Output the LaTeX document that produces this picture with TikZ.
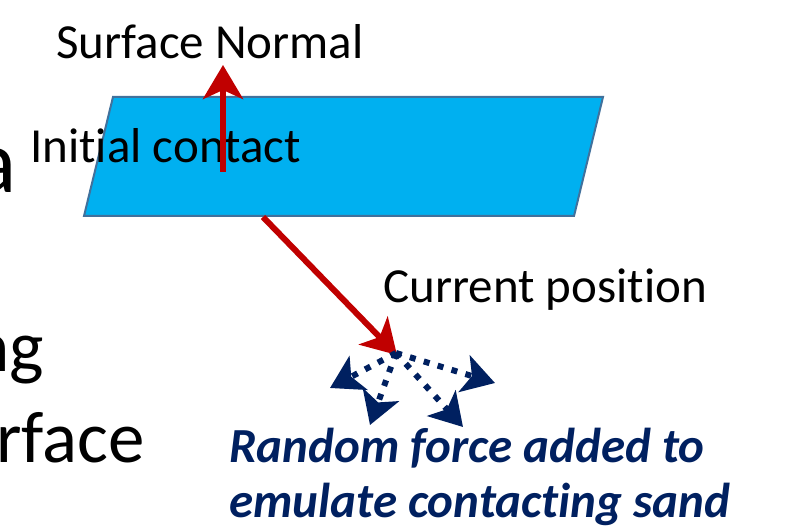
\documentclass[tikz,border=0pt]{standalone}
\usepackage{fontspec}
\setmainfont{Carlito}[Ligatures=CommonOff]
\usetikzlibrary{arrows.meta}
\definecolor{surfblue}{HTML}{00B0F0}
\definecolor{surfedge}{HTML}{41719C}
\definecolor{arrowred}{HTML}{C00000}
\definecolor{navyblue}{HTML}{002060}
% keep "t" and "i" as separate letters
\newcommand{\tisep}{\kern0pt}
\tikzset{
  caption/.style={inner sep=0pt, anchor=base west, font=\fontsize{49}{58}\selectfont},
  notetext/.style={inner sep=0pt, anchor=base west, text=navyblue,
    font=\fontsize{49}{56}\selectfont\bfseries\itshape},
  bigfrag/.style={inner sep=0pt, anchor=base east},
  redarrow/.style={draw=arrowred, line width=6pt,
    -{Stealth[length=34pt,width=40pt,inset=9pt]}},
  randarrow/.style={draw=navyblue, line width=6pt, dash pattern=on 6pt off 8.5pt,
    -{Stealth[length=32pt,width=38pt,inset=8pt]}},
  surface/.style={fill=surfblue, draw=surfedge, line width=2pt, line join=miter}
}
\begin{document}
\begin{tikzpicture}[x=1pt,y=-1pt]
\useasboundingbox (0,0) rectangle (789,526);
\clip (0,0) rectangle (789,526);

% text of the slide running in from the left
\node[bigfrag, font=\fontsize{90}{100}\selectfont] (fraga) at (17,193) {a};
\node[bigfrag, font=\fontsize{73}{88}\selectfont] (fragb) at (44,371) {ng};
\node[bigfrag, font=\fontsize{73}{88}\selectfont] (fragc) at (145,462) {rface};

% contact surface
\coordinate (s1) at (113,97);
\coordinate (s2) at (603,97);
\coordinate (s3) at (574,216);
\coordinate (s4) at (84,216);
\path[surface] (s1) -- (s2) -- (s3) -- (s4) -- cycle;

% labels
\node[caption] (snormal) at (56,59) {Surface Normal};
\node[caption] (initial) at (30,163) {Ini\tisep tial contact};
\node[caption] (current) at (383,302) {Current posi\tisep tion};

% key points
\coordinate (contact) at (223,172);
\coordinate (normaltip) at (223,65);
\coordinate (slide) at (263,217);
\coordinate (curpos) at (397,355);
\coordinate (origin) at (396,353);
\coordinate (ra) at (330,388);
\coordinate (rb) at (370,425);
\coordinate (rc) at (463,427);
\coordinate (rd) at (495,383);

% normal and path to the current position
\draw[redarrow] (contact) -- (normaltip);
\draw[redarrow] (slide) -- (curpos);

% random forces
\draw[randarrow] (origin) -- (ra);
\draw[randarrow] (origin) -- (rb);
\draw[randarrow] (origin) -- (rc);
\draw[randarrow] (origin) -- (rd);

% note
\node[notetext] (note1) at (229,462) {Random force added to};
\node[notetext] (note2) at (229,517) {emulate contac\tisep ting sand};
\end{tikzpicture}
\end{document}
